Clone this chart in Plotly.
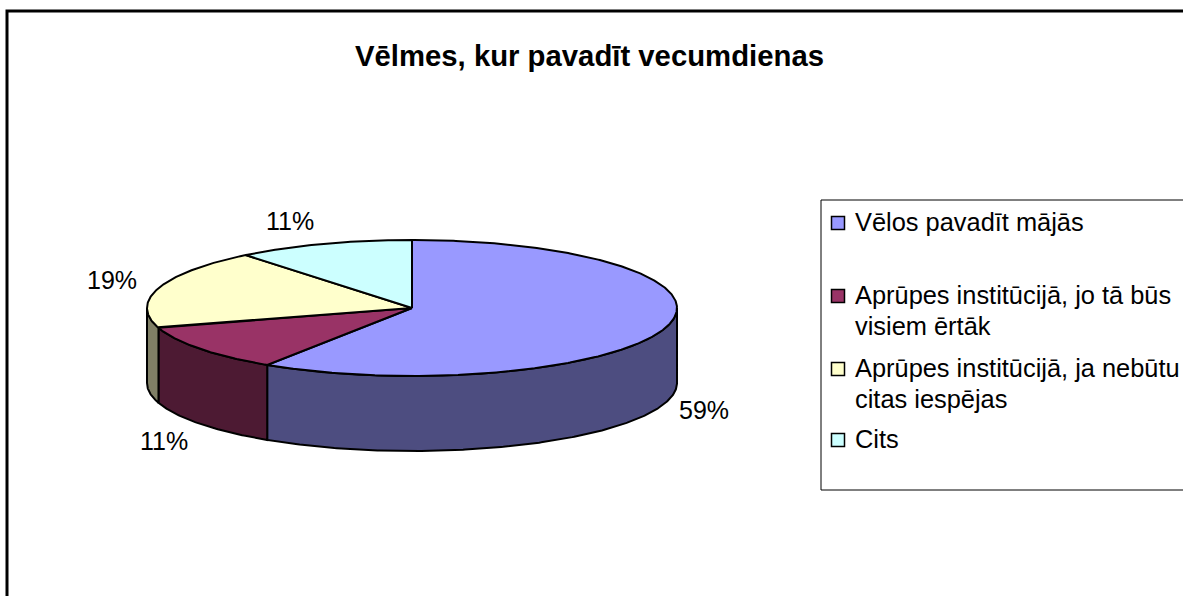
import numpy as np
import plotly.graph_objects as go

title = "Vēlmes, kur pavadīt vecumdienas"
categories = [
    "Vēlos pavadīt mājās",
    "Aprūpes institūcijā, jo tā būs<br>visiem ērtāk",
    "Aprūpes institūcijā, ja nebūtu<br>citas iespējas",
    "Cits",
]
# labels in the chart are rounded, slice edges suggest these shares
shares = [59.2, 11.1, 18.9, 10.8]
top_colors = ["#9999FF", "#993366", "#FFFFCC", "#CCFFFF"]
side_colors = ["#4D4D80", "#4D1A33", "#808066", "#668080"]

# pie geometry in page pixels
CX, CY, RX, RY, DEPTH = 412, 308, 265, 68, 75
FONT = "Liberation Sans, Arial, sans-serif"


def rim(a0, a1):
    # angles are degrees clockwise from 12 o'clock
    t = np.radians(np.linspace(a0, a1, max(int(abs(a1 - a0)) * 2, 2)))
    return CX + RX * np.sin(t), CY - RY * np.cos(t)


def add_poly(fig, x, y, color):
    fig.add_trace(
        go.Scatter(
            x=list(x),
            y=list(y),
            mode="lines",
            fill="toself",
            fillcolor=color,
            line=dict(color="black", width=2),
            hoverinfo="skip",
            showlegend=False,
        )
    )


fig = go.Figure()

edges = np.cumsum([0] + shares) * 3.6

# front wall first, so the top surface sits over it
for i, col in enumerate(side_colors):
    a0, a1 = max(edges[i], 90), min(edges[i + 1], 270)
    if a0 >= a1:
        continue
    x, y = rim(a0, a1)
    add_poly(
        fig,
        np.r_[x, x[::-1], x[0]],
        np.r_[y, y[::-1] + DEPTH, y[0]],
        col,
    )

for i, col in enumerate(top_colors):
    x, y = rim(edges[i], edges[i + 1])
    add_poly(fig, np.r_[CX, x, CX], np.r_[CY, y, CY], col)

# legend swatches
legend_rows = [223, 296, 369, 440]
fig.add_trace(
    go.Scatter(
        x=[838] * len(categories),
        y=legend_rows,
        mode="markers",
        marker=dict(
            symbol="square",
            size=13,
            color=top_colors,
            line=dict(color="black", width=1.5),
        ),
        hoverinfo="skip",
        showlegend=False,
    )
)

annotations = [
    dict(
        x=589,
        y=55,
        text=f"<b>{title}</b>",
        showarrow=False,
        font=dict(size=29.3, color="black", family=FONT),
    )
]

label_xy = [(704, 410), (164, 441), (112, 280), (290, 221)]
for (lx, ly), v in zip(label_xy, shares):
    annotations.append(
        dict(
            x=lx,
            y=ly,
            text=f"{v:.0f}%",
            showarrow=False,
            font=dict(size=25, color="black", family=FONT),
        )
    )

for row, cat in zip(legend_rows, categories):
    for j, part in enumerate(cat.split("<br>")):
        annotations.append(
            dict(
                x=853,
                y=row - 1 + j * 31,
                text=part,
                xanchor="left",
                showarrow=False,
                font=dict(size=25.4, color="black", family=FONT),
            )
        )

shapes = [
    # chart frame, right and bottom run off the page
    dict(type="rect", x0=7, y0=11, x1=1300, y1=700, line=dict(color="black", width=3)),
    dict(type="rect", x0=821, y0=200, x1=1300, y1=490, line=dict(color="black", width=1)),
]

fig.update_layout(
    width=1183,
    height=596,
    margin=dict(l=0, r=0, t=0, b=0),
    paper_bgcolor="white",
    plot_bgcolor="white",
    showlegend=False,
    annotations=annotations,
    shapes=shapes,
    xaxis=dict(range=[0, 1183], visible=False, fixedrange=True),
    yaxis=dict(range=[596, 0], visible=False, fixedrange=True),
)

# the page's default body margin would push everything 8px in
fig.write_html(
    "out.html",
    config=dict(displayModeBar=False),
    post_script="document.body.style.margin='0';document.body.style.overflow='hidden';",
)
